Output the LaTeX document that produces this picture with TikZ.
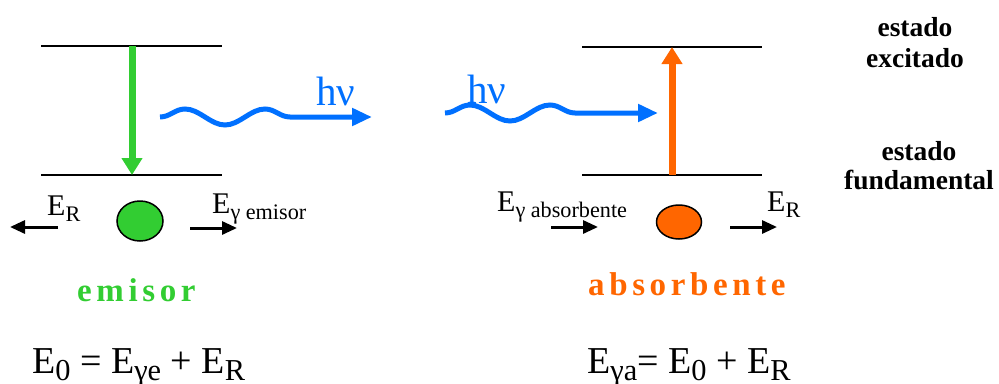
\documentclass[tikz,border=0pt]{standalone}
\usepackage{fontspec}
\usepackage{graphicx}
\setmainfont{Liberation Serif}
\newfontfamily\spaced[LetterSpace=14]{Liberation Serif}
\usetikzlibrary{arrows.meta,shapes.geometric,decorations.pathmorphing}
\definecolor{emigreen}{RGB}{50,205,50}
\definecolor{absorange}{RGB}{255,102,0}
\definecolor{photonblue}{RGB}{0,112,255}
\newcommand{\lowsub}[2][0.74]{\raisebox{-0.2em}{\scalebox{#1}{#2}}}

\begin{document}
\begin{tikzpicture}[x=1pt,y=-1pt,
  level/.style={line width=2pt},
  recoil/.style={line width=3pt,-{Triangle[length=15pt,width=13pt]}},
  trans/.style={line width=7pt,-{Triangle[length=17pt,width=20pt]}},
  photon/.style={photonblue,line width=5pt,-{Triangle[length=20pt,width=17pt]},
    decorate,decoration={snake,segment length=80pt,amplitude=8pt,post length=53pt}},
  lbl/.style={inner sep=0pt,anchor=base west},
  nucleus/.style={ellipse,draw,line width=1.5pt,inner sep=0pt}]
  \useasboundingbox (0,0) rectangle (999,383);
  % emisor levels
  \coordinate (eu1) at (41,46);  \coordinate (eu2) at (222,46);
  \coordinate (el1) at (41,175); \coordinate (el2) at (222,175);
  \coordinate (etop) at (132,46); \coordinate (ebot) at (132,175);
  \draw[level] (eu1) -- (eu2);
  \draw[level] (el1) -- (el2);
  \draw[trans,emigreen] (etop) -- (ebot);
  % absorbente levels
  \coordinate (au1) at (582,47);  \coordinate (au2) at (762,47);
  \coordinate (al1) at (582,175); \coordinate (al2) at (762,175);
  \coordinate (atop) at (672,47); \coordinate (abot) at (672,175);
  \draw[level] (au1) -- (au2);
  \draw[level] (al1) -- (al2);
  \draw[trans,absorange] (abot) -- (atop);
  % photons
  \coordinate (p1s) at (160,117); \coordinate (p1e) at (372,117);
  \coordinate (p2s) at (445,113); \coordinate (p2e) at (658,113);
  \draw[photon] (p1s) -- (p1e);
  \draw[photon] (p2s) -- (p2e);
  \node[lbl,photonblue,font=\fontsize{41}{41}\selectfont] (hv1) at (316,105) {hν};
  \node[lbl,photonblue,font=\fontsize{41}{41}\selectfont] (hv2) at (467,103) {hν};
  % nuclei
  \node[nucleus,fill=emigreen,minimum width=46pt,minimum height=40pt] (emi) at (140,221) {};
  \node[nucleus,fill=absorange,minimum width=45pt,minimum height=34pt] (abs) at (679,222) {};
  % recoil arrows
  \coordinate (r1s) at (58,227);  \coordinate (r1e) at (10,227);
  \coordinate (r2s) at (190,228); \coordinate (r2e) at (237,228);
  \coordinate (r3s) at (551,227); \coordinate (r3e) at (598,227);
  \coordinate (r4s) at (730,227); \coordinate (r4e) at (777,227);
  \draw[recoil] (r1s) -- (r1e);
  \draw[recoil] (r2s) -- (r2e);
  \draw[recoil] (r3s) -- (r3e);
  \draw[recoil] (r4s) -- (r4e);
  \node[lbl,font=\fontsize{30}{30}\selectfont] (ER1) at (47,215) {E\lowsub{R}};
  \node[lbl,font=\fontsize{30}{30}\selectfont] (Ege) at (212,213) {E\lowsub{γ emisor}};
  \node[lbl,font=\fontsize{30}{30}\selectfont] (Ega) at (497,211) {E\lowsub{γ absorbente}};
  \node[lbl,font=\fontsize{30}{30}\selectfont] (ER2) at (767,211) {E\lowsub{R}};
  % names
  \node[lbl,emigreen,font=\fontsize{33}{33}\spaced\bfseries] (nemi) at (77,301) {emisor};
  \node[lbl,absorange,font=\fontsize{33}{33}\spaced\bfseries] (nabs) at (588,295) {absorbente};
  % states
  \node[inner sep=0pt,anchor=base,align=center,font=\fontsize{27.5}{31}\selectfont\bfseries] (exc) at (915,67) {estado\\excitado};
  \node[inner sep=0pt,anchor=base,align=center,font=\fontsize{27.5}{29}\selectfont\bfseries] (fund) at (919,189) {estado\\fundamental};
  % balances
  \node[lbl,font=\fontsize{38}{38}\selectfont] (bal1) at (32,373) {E\lowsub[0.8]{0} = E\lowsub[0.8]{γe} + E\lowsub[0.8]{R}};
  \node[lbl,font=\fontsize{38}{38}\selectfont] (bal2) at (587,373) {E\lowsub[0.8]{γa}= E\lowsub[0.8]{0} + E\lowsub[0.8]{R}};
\end{tikzpicture}
\end{document}
